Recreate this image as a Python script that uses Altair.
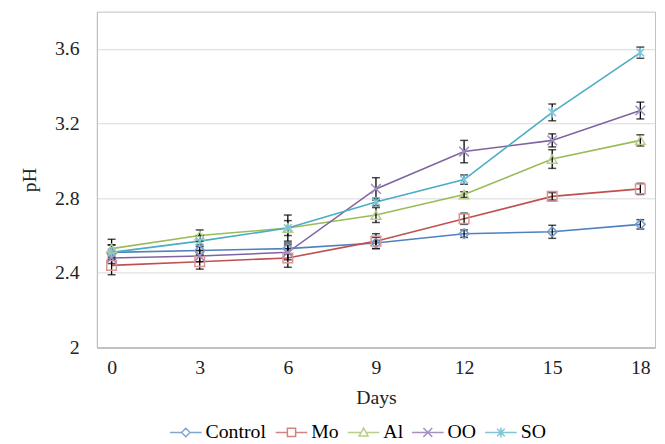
import altair as alt
import pandas as pd

days = [0, 3, 6, 9, 12, 15, 18]
series_names = ["Control", "Mo", "Al", "OO", "SO"]

ph_control = [2.51, 2.52, 2.53, 2.56, 2.61, 2.62, 2.66]
ph_mo = [2.44, 2.46, 2.48, 2.57, 2.69, 2.81, 2.85]
ph_al = [2.53, 2.60, 2.64, 2.71, 2.82, 3.01, 3.11]
ph_oo = [2.48, 2.49, 2.51, 2.85, 3.05, 3.11, 3.27]
ph_so = [2.51, 2.57, 2.64, 2.78, 2.90, 3.26, 3.58]

err_control = [0.04, 0.03, 0.03, 0.03, 0.02, 0.035, 0.025]
err_mo = [0.05, 0.04, 0.05, 0.04, 0.03, 0.02, 0.03]
err_al = [0.05, 0.03, 0.07, 0.04, 0.015, 0.05, 0.03]
err_oo = [0.03, 0.03, 0.04, 0.06, 0.06, 0.035, 0.045]
err_so = [0.04, 0.03, 0.04, 0.02, 0.025, 0.045, 0.03]

y_ticks = [2, 2.4, 2.8, 3.2, 3.6]
x_ticks = [0, 3, 6, 9, 12, 15, 18]

line_colors = ["#4F81BD", "#C0504D", "#9BBB59", "#8064A2", "#4BACC6"]
marker_colors = ["#6F9AD0", "#D99694", "#B7CE8A", "#A08CC0", "#7CC4D8"]
marker_shapes = [
    "diamond",
    "square",
    "triangle-up",
    "M-1,-1L1,1M-1,1L1,-1",
    "M-0.8,-0.8L0.8,0.8M-0.8,0.8L0.8,-0.8M0,-1.1L0,1.1",
]
legend_shapes = [
    "M-1,0L-0.27,0M0.27,0L1,0M-0.27,0L0,-0.27L0.27,0L0,0.27Z",
    "M-1,0L-0.26,0M0.26,0L1,0M-0.26,-0.26L0.26,-0.26L0.26,0.26L-0.26,0.26Z",
    "M-1,0L-0.18,0M0.18,0L1,0M-0.28,0.22L0,-0.28L0.28,0.22Z",
    "M-1,0L1,0M-0.28,-0.28L0.28,0.28M-0.28,0.28L0.28,-0.28",
    "M-1,0L1,0M-0.24,-0.24L0.24,0.24M-0.24,0.24L0.24,-0.24M0,-0.32L0,0.32",
]

vals = [ph_control, ph_mo, ph_al, ph_oo, ph_so]
errs = [err_control, err_mo, err_al, err_oo, err_so]
rows = []
for name, v, e in zip(series_names, vals, errs):
    for d, p, er in zip(days, v, e):
        rows.append({"day": d, "series": name, "ph": p, "lo": p - er, "hi": p + er})
df = pd.DataFrame(rows)

# legend-only rows, placed outside the y domain and clipped away
legend_df = pd.DataFrame({"series": series_names, "day": [0] * 5, "ph": [9.0] * 5})

FONT = "Liberation Serif"
FS = 20

x_enc = alt.X("day:Q", scale=alt.Scale(domain=[-0.5, 18.5], nice=False, zero=False),
              axis=alt.Axis(values=x_ticks, title="Days", grid=False, ticks=False,
                            labelPadding=10, titlePadding=11, domainColor="#a6a6a6"))
y_scale = alt.Scale(domain=[2, 3.8], nice=False, zero=False)
y_enc = alt.Y("ph:Q", scale=y_scale,
              axis=alt.Axis(values=y_ticks, format="~g", title="pH", grid=True, ticks=False,
                            labelPadding=18, titlePadding=15, gridColor="#d9d9d9",
                            domainColor="#bfbfbf"))

base = alt.Chart(df)

line_layers = []
for i, (name, col) in enumerate(zip(series_names, line_colors)):
    enc = dict(x=x_enc, y=y_enc) if i == 0 else dict(x="day:Q", y="ph:Q")
    line_layers.append(
        base.transform_filter(alt.datum.series == name)
        .mark_line(strokeWidth=1.6, color=col)
        .encode(**enc)
    )

rules = base.mark_rule(color="black", strokeWidth=1.3).encode(
    x="day:Q", y="lo:Q", y2="hi:Q"
)
caps_lo = base.mark_tick(color="black", thickness=1.5, size=8, orient="horizontal").encode(
    x="day:Q", y="lo:Q"
)
caps_hi = base.mark_tick(color="black", thickness=1.5, size=8, orient="horizontal").encode(
    x="day:Q", y="hi:Q"
)

marker_layers = []
for name, shp, col in zip(series_names, marker_shapes, marker_colors):
    marker_layers.append(
        base.transform_filter(alt.datum.series == name)
        .mark_point(shape=shp, size=95, color=col, strokeWidth=1.5, filled=False, opacity=1)
        .encode(x="day:Q", y="ph:Q")
    )

legend_cfg = dict(
    title=None, orient="none", direction="horizontal", legendX=73, legendY=409,
    labelFont=FONT, labelFontSize=FS, labelColor="#000000", symbolSize=1024,
    symbolStrokeWidth=1.5, labelOffset=3, columnPadding=6, padding=0,
)
legend_layer = alt.Chart(legend_df).mark_point(filled=False, strokeWidth=1.5, clip=True).encode(
    x="day:Q", y="ph:Q",
    color=alt.Color("series:N", scale=alt.Scale(domain=series_names, range=line_colors),
                    legend=alt.Legend(**legend_cfg)),
    shape=alt.Shape("series:N", scale=alt.Scale(domain=series_names, range=legend_shapes),
                    legend=alt.Legend(**legend_cfg)),
)

chart = alt.layer(*line_layers, rules, caps_lo, caps_hi, *marker_layers, legend_layer).properties(
    width=565, height=340,
    background="white",
    autosize=alt.AutoSizeParams(type="none"),
    padding={"left": 90, "top": 1, "right": 2, "bottom": 95},
).configure(font=FONT).configure_view(stroke="#bfbfbf", strokeWidth=1).configure_axis(
    labelFont=FONT, titleFont=FONT, labelFontSize=FS, titleFontSize=FS,
    labelColor="#222222", titleColor="#222222", titleFontWeight="normal",
).configure_legend(
    labelFont=FONT, labelFontSize=FS, labelColor="#000000",
)

chart.save("out.html", embed_options={"renderer": "svg", "actions": False})
